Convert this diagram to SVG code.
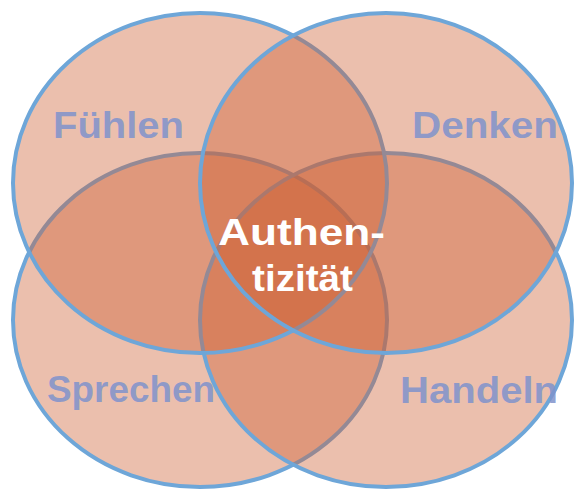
<svg xmlns="http://www.w3.org/2000/svg" width="581" height="496" viewBox="0 0 581 496">
  <style>
    .set { fill: rgb(205,95,50); fill-opacity: 0.4; stroke: #6ea6d8; stroke-width: 4; }
    .lbl { font-family: "Liberation Sans", Arial, sans-serif; font-weight: bold; font-size: 36px; fill: #7f93cc; fill-opacity: 0.85; }
    .ctr { font-family: "Liberation Sans", Arial, sans-serif; font-weight: bold; font-size: 37px; fill: #ffffff; }
  </style>
  <rect width="581" height="496" fill="#ffffff"/>
  <g id="sprechen">
    <ellipse class="set" cx="200" cy="320" rx="187" ry="167"/>
    <text class="lbl" x="47" y="402" textLength="168" lengthAdjust="spacingAndGlyphs">Sprechen</text>
  </g>
  <g id="handeln">
    <ellipse class="set" cx="386" cy="320" rx="186" ry="167"/>
    <text class="lbl" x="400" y="403" textLength="158" lengthAdjust="spacingAndGlyphs">Handeln</text>
  </g>
  <g id="fuehlen">
    <ellipse class="set" cx="200" cy="183" rx="187" ry="170"/>
    <text class="lbl" x="53" y="138" textLength="131" lengthAdjust="spacingAndGlyphs">Fühlen</text>
  </g>
  <g id="denken">
    <ellipse class="set" cx="386" cy="183" rx="186" ry="170"/>
    <text class="lbl" x="412" y="138" textLength="146" lengthAdjust="spacingAndGlyphs">Denken</text>
  </g>
  <g id="connectors"></g>
  <g id="authentizitaet">
    <text class="ctr" x="218" y="245" textLength="167" lengthAdjust="spacingAndGlyphs">Authen-</text>
    <text class="ctr" x="252" y="291" textLength="101" lengthAdjust="spacingAndGlyphs">tizität</text>
  </g>
</svg>
